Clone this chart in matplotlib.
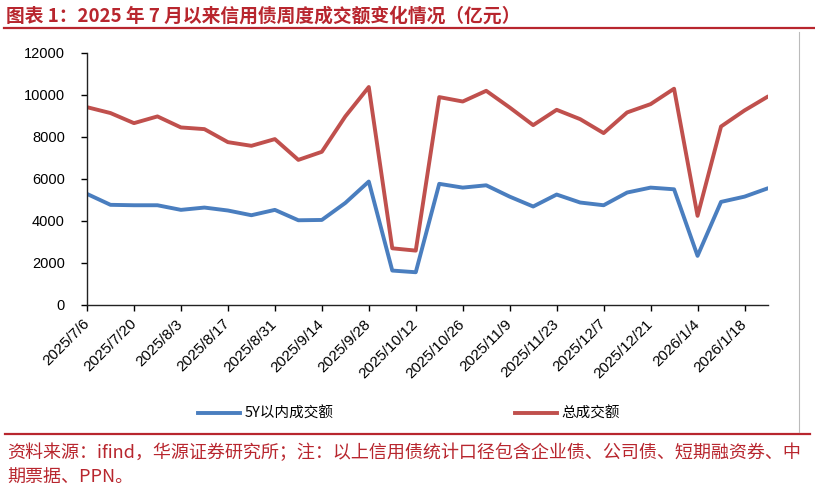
import matplotlib
matplotlib.use("Agg")
import matplotlib.pyplot as plt
from matplotlib.lines import Line2D

plt.rcParams['font.family'] = ['Noto Sans CJK SC', 'DejaVu Sans']

dates = ["2025/7/6", "2025/7/13", "2025/7/20", "2025/7/27", "2025/8/3", "2025/8/10",
         "2025/8/17", "2025/8/24", "2025/8/31", "2025/9/7", "2025/9/14", "2025/9/21",
         "2025/9/28", "2025/10/5", "2025/10/12", "2025/10/19", "2025/10/26", "2025/11/2",
         "2025/11/9", "2025/11/16", "2025/11/23", "2025/11/30", "2025/12/7", "2025/12/14",
         "2025/12/21", "2025/12/28", "2026/1/4", "2026/1/11", "2026/1/18", "2026/1/25"]

within_5y = [5290, 4770, 4750, 4750, 4530, 4640, 4500, 4275, 4530, 4035,
             4050, 4860, 5880, 1640, 1560, 5770, 5590, 5700, 5160, 4690,
             5260, 4880, 4750, 5355, 5590, 5510, 2340, 4910, 5160, 5560]

total = [9420, 9140, 8660, 8980, 8455, 8375, 7755, 7580, 7900, 6910,
         7295, 8980, 10380, 2700, 2590, 9900, 9690, 10200, 9405, 8565,
         9295, 8850, 8185, 9170, 9565, 10300, 4245, 8500, 9265, 9930]

series_names = ["5Y以内成交额", "总成交额"]
title_text = "图表 1：2025 年 7 月以来信用债周度成交额变化情况（亿元）"
note_line1 = "资料来源：ifind，华源证券研究所；注：以上信用债统计口径包含企业债、公司债、短期融资券、中"
note_line2 = "期票据、PPN。"

BLUE = "#4A7EBF"
RED = "#C0504D"
DARKRED = "#B8262E"

W, H = 815, 491
fig = plt.figure(figsize=(W / 100, H / 100), dpi=100)

ax = fig.add_axes([87 / W, 1 - 305 / H, (768 - 87) / W, (305 - 53) / H])
x = list(range(len(dates)))
ax.plot(x, within_5y, color=BLUE, lw=2.8, solid_joinstyle='round', solid_capstyle='round')
ax.plot(x, total, color=RED, lw=2.8, solid_joinstyle='round', solid_capstyle='round')

ax.set_xlim(0, len(dates) - 1)
ax.set_ylim(0, 12000)
ax.set_yticks(range(0, 12001, 2000))
ax.set_yticklabels([str(v) for v in range(0, 12001, 2000)], fontsize=10.5,
                   family=['Liberation Sans', 'DejaVu Sans'])
ax.set_xticks(x[::2])
ax.set_xticklabels(dates[::2], rotation=45, ha='right', va='center',
                   rotation_mode='anchor', fontsize=11,
                   family=['Liberation Sans', 'DejaVu Sans'])
ax.tick_params(axis='x', length=4, width=1, direction='out', pad=8)
ax.tick_params(axis='y', length=4, width=1, direction='out', pad=12)
for s in ['top', 'right']:
    ax.spines[s].set_visible(False)
for s in ['left', 'bottom']:
    ax.spines[s].set_linewidth(1.0)
    ax.spines[s].set_color('#222222')

# Title and rules
fig.text(6 / W, 1 - 16 / H, title_text, fontsize=13.5, fontweight='bold',
         color=DARKRED, va='center', ha='left')
fig.add_artist(Line2D([4 / W, 1.0], [1 - 28 / H, 1 - 28 / H], color=DARKRED, lw=1.6))
fig.add_artist(Line2D([5 / W, 810 / W], [1 - 434 / H, 1 - 434 / H], color=DARKRED, lw=1.6))
fig.add_artist(Line2D([799 / W, 799 / W], [1 - 32 / H, 1 - 432 / H], color='#BBBBBB', lw=0.8))

# Legend
handles = [Line2D([], [], color=BLUE, lw=2.8), Line2D([], [], color=RED, lw=2.8)]
fig.legend(handles, series_names, loc='center', bbox_to_anchor=(409 / W, 1 - 414 / H),
           ncol=2, frameon=False, fontsize=10.5, handlelength=2.9, handletextpad=0.3,
           columnspacing=12.4)

# Footnote
fig.text(7 / W, 1 - 453 / H, note_line1, fontsize=13, color=DARKRED, va='center', ha='left')
fig.text(7 / W, 1 - 478 / H, note_line2, fontsize=13, color=DARKRED, va='center', ha='left')

fig.savefig("out.png", dpi=100)
